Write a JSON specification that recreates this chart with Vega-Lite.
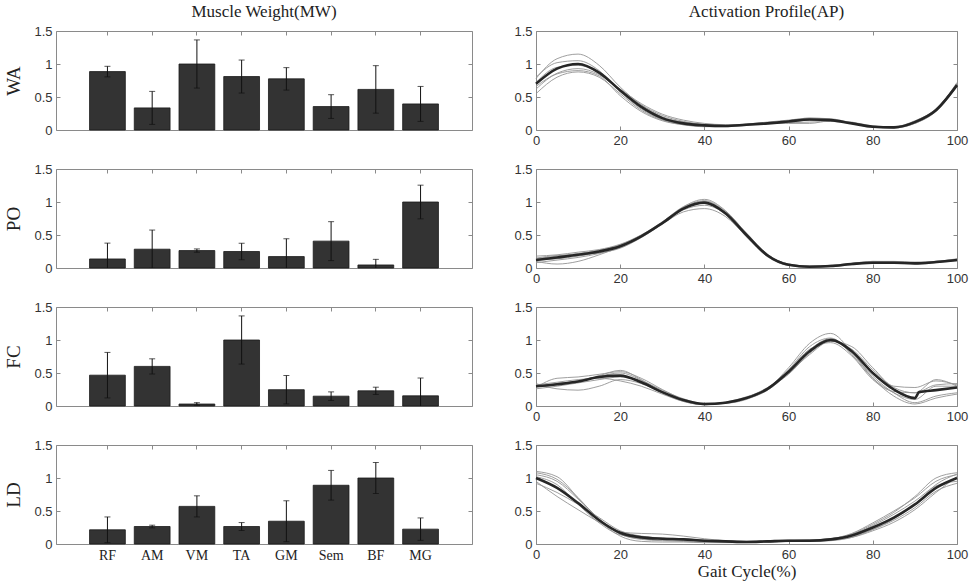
{
"$schema": "https://vega.github.io/schema/vega-lite/v6.json",
"background": "white",
"padding": {"left": 4, "top": 2, "right": 5, "bottom": 2},
"spacing": 14,
"config": {
  "view": {"stroke": "#8a8a8a", "strokeWidth": 1},
  "axis": {"labelFont": "Liberation Sans", "labelFontSize": 13, "labelColor": "#333333", "labelFlush": false, "domain": false, "ticks": true, "tickColor": "#8a8a8a", "tickSize": -4, "labelPadding": 8, "grid": false, "titleFont": "Liberation Serif", "titleFontSize": 19, "titleFontWeight": "normal", "titleColor": "#222222"},
  "title": {"font": "Liberation Serif", "fontSize": 17, "fontWeight": "normal", "color": "#222222"},
  "concat": {"spacing": 40}
},
"datasets": {
"bars": [
{"p":"WA","m":"RF","v":0.885,"lo":0.805,"hi":0.965},
{"p":"WA","m":"AM","v":0.335,"lo":0.085,"hi":0.585},
{"p":"WA","m":"VM","v":1.0,"lo":0.635,"hi":1.365},
{"p":"WA","m":"TA","v":0.81,"lo":0.56,"hi":1.06},
{"p":"WA","m":"GM","v":0.775,"lo":0.605,"hi":0.945},
{"p":"WA","m":"Sem","v":0.355,"lo":0.175,"hi":0.535},
{"p":"WA","m":"BF","v":0.615,"lo":0.255,"hi":0.975},
{"p":"WA","m":"MG","v":0.395,"lo":0.13,"hi":0.66},
{"p":"PO","m":"RF","v":0.137,"lo":-0.103,"hi":0.377},
{"p":"PO","m":"AM","v":0.285,"lo":-0.005,"hi":0.575},
{"p":"PO","m":"VM","v":0.264,"lo":0.239,"hi":0.289},
{"p":"PO","m":"TA","v":0.25,"lo":0.125,"hi":0.375},
{"p":"PO","m":"GM","v":0.173,"lo":-0.097,"hi":0.443},
{"p":"PO","m":"Sem","v":0.407,"lo":0.112,"hi":0.702},
{"p":"PO","m":"BF","v":0.046,"lo":-0.039,"hi":0.131},
{"p":"PO","m":"MG","v":1.0,"lo":0.745,"hi":1.255},
{"p":"FC","m":"RF","v":0.467,"lo":0.122,"hi":0.812},
{"p":"FC","m":"AM","v":0.6,"lo":0.485,"hi":0.715},
{"p":"FC","m":"VM","v":0.03,"lo":0.01,"hi":0.05},
{"p":"FC","m":"TA","v":1.0,"lo":0.635,"hi":1.365},
{"p":"FC","m":"GM","v":0.247,"lo":0.032,"hi":0.462},
{"p":"FC","m":"Sem","v":0.149,"lo":0.084,"hi":0.214},
{"p":"FC","m":"BF","v":0.23,"lo":0.175,"hi":0.285},
{"p":"FC","m":"MG","v":0.154,"lo":-0.116,"hi":0.424},
{"p":"LD","m":"RF","v":0.215,"lo":0.02,"hi":0.41},
{"p":"LD","m":"AM","v":0.265,"lo":0.245,"hi":0.285},
{"p":"LD","m":"VM","v":0.57,"lo":0.41,"hi":0.73},
{"p":"LD","m":"TA","v":0.265,"lo":0.205,"hi":0.325},
{"p":"LD","m":"GM","v":0.345,"lo":0.035,"hi":0.655},
{"p":"LD","m":"Sem","v":0.89,"lo":0.665,"hi":1.115},
{"p":"LD","m":"BF","v":1.0,"lo":0.765,"hi":1.235},
{"p":"LD","m":"MG","v":0.225,"lo":0.055,"hi":0.395}
],
"lines": [
{"p":"WA","s":"mean","x":0,"y":0.70},{"p":"WA","s":"mean","x":5,"y":0.93},{"p":"WA","s":"mean","x":10,"y":1.00},{"p":"WA","s":"mean","x":15,"y":0.87},{"p":"WA","s":"mean","x":20,"y":0.60},{"p":"WA","s":"mean","x":25,"y":0.35},{"p":"WA","s":"mean","x":30,"y":0.18},{"p":"WA","s":"mean","x":35,"y":0.10},{"p":"WA","s":"mean","x":40,"y":0.07},{"p":"WA","s":"mean","x":45,"y":0.06},{"p":"WA","s":"mean","x":50,"y":0.08},{"p":"WA","s":"mean","x":55,"y":0.10},{"p":"WA","s":"mean","x":60,"y":0.13},{"p":"WA","s":"mean","x":65,"y":0.16},{"p":"WA","s":"mean","x":70,"y":0.15},{"p":"WA","s":"mean","x":75,"y":0.10},{"p":"WA","s":"mean","x":80,"y":0.05},{"p":"WA","s":"mean","x":85,"y":0.04},{"p":"WA","s":"mean","x":90,"y":0.12},{"p":"WA","s":"mean","x":95,"y":0.30},{"p":"WA","s":"mean","x":100,"y":0.68},
{"p":"WA","s":"g1","x":0,"y":0.78},{"p":"WA","s":"g1","x":5,"y":1.08},{"p":"WA","s":"g1","x":10,"y":1.15},{"p":"WA","s":"g1","x":15,"y":0.98},{"p":"WA","s":"g1","x":20,"y":0.65},{"p":"WA","s":"g1","x":25,"y":0.38},{"p":"WA","s":"g1","x":30,"y":0.2},{"p":"WA","s":"g1","x":35,"y":0.12},{"p":"WA","s":"g1","x":40,"y":0.09},{"p":"WA","s":"g1","x":45,"y":0.07},{"p":"WA","s":"g1","x":50,"y":0.08},{"p":"WA","s":"g1","x":55,"y":0.1},{"p":"WA","s":"g1","x":60,"y":0.12},{"p":"WA","s":"g1","x":65,"y":0.15},{"p":"WA","s":"g1","x":70,"y":0.15},{"p":"WA","s":"g1","x":75,"y":0.11},{"p":"WA","s":"g1","x":80,"y":0.06},{"p":"WA","s":"g1","x":85,"y":0.04},{"p":"WA","s":"g1","x":90,"y":0.1},{"p":"WA","s":"g1","x":95,"y":0.3},{"p":"WA","s":"g1","x":100,"y":0.72},
{"p":"WA","s":"g2","x":0,"y":0.55},{"p":"WA","s":"g2","x":5,"y":0.8},{"p":"WA","s":"g2","x":10,"y":0.88},{"p":"WA","s":"g2","x":15,"y":0.8},{"p":"WA","s":"g2","x":20,"y":0.55},{"p":"WA","s":"g2","x":25,"y":0.3},{"p":"WA","s":"g2","x":30,"y":0.15},{"p":"WA","s":"g2","x":35,"y":0.08},{"p":"WA","s":"g2","x":40,"y":0.05},{"p":"WA","s":"g2","x":45,"y":0.05},{"p":"WA","s":"g2","x":50,"y":0.07},{"p":"WA","s":"g2","x":55,"y":0.1},{"p":"WA","s":"g2","x":60,"y":0.14},{"p":"WA","s":"g2","x":65,"y":0.18},{"p":"WA","s":"g2","x":70,"y":0.17},{"p":"WA","s":"g2","x":75,"y":0.11},{"p":"WA","s":"g2","x":80,"y":0.05},{"p":"WA","s":"g2","x":85,"y":0.03},{"p":"WA","s":"g2","x":90,"y":0.1},{"p":"WA","s":"g2","x":95,"y":0.28},{"p":"WA","s":"g2","x":100,"y":0.66},
{"p":"WA","s":"g3","x":0,"y":0.62},{"p":"WA","s":"g3","x":5,"y":0.86},{"p":"WA","s":"g3","x":10,"y":0.93},{"p":"WA","s":"g3","x":15,"y":0.84},{"p":"WA","s":"g3","x":20,"y":0.6},{"p":"WA","s":"g3","x":25,"y":0.38},{"p":"WA","s":"g3","x":30,"y":0.22},{"p":"WA","s":"g3","x":35,"y":0.13},{"p":"WA","s":"g3","x":40,"y":0.08},{"p":"WA","s":"g3","x":45,"y":0.06},{"p":"WA","s":"g3","x":50,"y":0.07},{"p":"WA","s":"g3","x":55,"y":0.09},{"p":"WA","s":"g3","x":60,"y":0.11},{"p":"WA","s":"g3","x":65,"y":0.12},{"p":"WA","s":"g3","x":70,"y":0.13},{"p":"WA","s":"g3","x":75,"y":0.1},{"p":"WA","s":"g3","x":80,"y":0.06},{"p":"WA","s":"g3","x":85,"y":0.05},{"p":"WA","s":"g3","x":90,"y":0.13},{"p":"WA","s":"g3","x":95,"y":0.32},{"p":"WA","s":"g3","x":100,"y":0.7},
{"p":"WA","s":"g4","x":0,"y":0.8},{"p":"WA","s":"g4","x":5,"y":1.02},{"p":"WA","s":"g4","x":10,"y":1.05},{"p":"WA","s":"g4","x":15,"y":0.9},{"p":"WA","s":"g4","x":20,"y":0.58},{"p":"WA","s":"g4","x":25,"y":0.32},{"p":"WA","s":"g4","x":30,"y":0.16},{"p":"WA","s":"g4","x":35,"y":0.09},{"p":"WA","s":"g4","x":40,"y":0.06},{"p":"WA","s":"g4","x":45,"y":0.06},{"p":"WA","s":"g4","x":50,"y":0.09},{"p":"WA","s":"g4","x":55,"y":0.12},{"p":"WA","s":"g4","x":60,"y":0.15},{"p":"WA","s":"g4","x":65,"y":0.18},{"p":"WA","s":"g4","x":70,"y":0.16},{"p":"WA","s":"g4","x":75,"y":0.1},{"p":"WA","s":"g4","x":80,"y":0.04},{"p":"WA","s":"g4","x":85,"y":0.03},{"p":"WA","s":"g4","x":90,"y":0.12},{"p":"WA","s":"g4","x":95,"y":0.3},{"p":"WA","s":"g4","x":100,"y":0.67},
{"p":"WA","s":"g5","x":0,"y":0.66},{"p":"WA","s":"g5","x":5,"y":0.85},{"p":"WA","s":"g5","x":10,"y":0.9},{"p":"WA","s":"g5","x":15,"y":0.82},{"p":"WA","s":"g5","x":20,"y":0.52},{"p":"WA","s":"g5","x":25,"y":0.28},{"p":"WA","s":"g5","x":30,"y":0.14},{"p":"WA","s":"g5","x":35,"y":0.08},{"p":"WA","s":"g5","x":40,"y":0.06},{"p":"WA","s":"g5","x":45,"y":0.07},{"p":"WA","s":"g5","x":50,"y":0.09},{"p":"WA","s":"g5","x":55,"y":0.1},{"p":"WA","s":"g5","x":60,"y":0.1},{"p":"WA","s":"g5","x":65,"y":0.1},{"p":"WA","s":"g5","x":70,"y":0.14},{"p":"WA","s":"g5","x":75,"y":0.12},{"p":"WA","s":"g5","x":80,"y":0.06},{"p":"WA","s":"g5","x":85,"y":0.04},{"p":"WA","s":"g5","x":90,"y":0.11},{"p":"WA","s":"g5","x":95,"y":0.31},{"p":"WA","s":"g5","x":100,"y":0.7},
{"p":"WA","s":"g6","x":0,"y":0.72},{"p":"WA","s":"g6","x":5,"y":0.95},{"p":"WA","s":"g6","x":10,"y":0.98},{"p":"WA","s":"g6","x":15,"y":0.86},{"p":"WA","s":"g6","x":20,"y":0.62},{"p":"WA","s":"g6","x":25,"y":0.4},{"p":"WA","s":"g6","x":30,"y":0.24},{"p":"WA","s":"g6","x":35,"y":0.15},{"p":"WA","s":"g6","x":40,"y":0.1},{"p":"WA","s":"g6","x":45,"y":0.08},{"p":"WA","s":"g6","x":50,"y":0.08},{"p":"WA","s":"g6","x":55,"y":0.1},{"p":"WA","s":"g6","x":60,"y":0.14},{"p":"WA","s":"g6","x":65,"y":0.17},{"p":"WA","s":"g6","x":70,"y":0.16},{"p":"WA","s":"g6","x":75,"y":0.1},{"p":"WA","s":"g6","x":80,"y":0.05},{"p":"WA","s":"g6","x":85,"y":0.05},{"p":"WA","s":"g6","x":90,"y":0.14},{"p":"WA","s":"g6","x":95,"y":0.32},{"p":"WA","s":"g6","x":100,"y":0.7},

{"p":"PO","s":"mean","x":0,"y":0.12},{"p":"PO","s":"mean","x":5,"y":0.16},{"p":"PO","s":"mean","x":10,"y":0.2},{"p":"PO","s":"mean","x":15,"y":0.25},{"p":"PO","s":"mean","x":20,"y":0.33},{"p":"PO","s":"mean","x":25,"y":0.48},{"p":"PO","s":"mean","x":30,"y":0.68},{"p":"PO","s":"mean","x":35,"y":0.9},{"p":"PO","s":"mean","x":40,"y":0.99},{"p":"PO","s":"mean","x":45,"y":0.83},{"p":"PO","s":"mean","x":50,"y":0.5},{"p":"PO","s":"mean","x":55,"y":0.19},{"p":"PO","s":"mean","x":60,"y":0.05},{"p":"PO","s":"mean","x":65,"y":0.02},{"p":"PO","s":"mean","x":70,"y":0.03},{"p":"PO","s":"mean","x":75,"y":0.06},{"p":"PO","s":"mean","x":80,"y":0.08},{"p":"PO","s":"mean","x":85,"y":0.08},{"p":"PO","s":"mean","x":90,"y":0.07},{"p":"PO","s":"mean","x":95,"y":0.09},{"p":"PO","s":"mean","x":100,"y":0.12},
{"p":"PO","s":"g1","x":0,"y":0.18},{"p":"PO","s":"g1","x":5,"y":0.2},{"p":"PO","s":"g1","x":10,"y":0.24},{"p":"PO","s":"g1","x":15,"y":0.28},{"p":"PO","s":"g1","x":20,"y":0.36},{"p":"PO","s":"g1","x":25,"y":0.5},{"p":"PO","s":"g1","x":30,"y":0.7},{"p":"PO","s":"g1","x":35,"y":0.93},{"p":"PO","s":"g1","x":40,"y":1.04},{"p":"PO","s":"g1","x":45,"y":0.87},{"p":"PO","s":"g1","x":50,"y":0.52},{"p":"PO","s":"g1","x":55,"y":0.2},{"p":"PO","s":"g1","x":60,"y":0.05},{"p":"PO","s":"g1","x":65,"y":0.02},{"p":"PO","s":"g1","x":70,"y":0.04},{"p":"PO","s":"g1","x":75,"y":0.07},{"p":"PO","s":"g1","x":80,"y":0.1},{"p":"PO","s":"g1","x":85,"y":0.1},{"p":"PO","s":"g1","x":90,"y":0.09},{"p":"PO","s":"g1","x":95,"y":0.1},{"p":"PO","s":"g1","x":100,"y":0.14},
{"p":"PO","s":"g2","x":0,"y":0.1},{"p":"PO","s":"g2","x":5,"y":0.06},{"p":"PO","s":"g2","x":10,"y":0.1},{"p":"PO","s":"g2","x":15,"y":0.2},{"p":"PO","s":"g2","x":20,"y":0.32},{"p":"PO","s":"g2","x":25,"y":0.48},{"p":"PO","s":"g2","x":30,"y":0.68},{"p":"PO","s":"g2","x":35,"y":0.88},{"p":"PO","s":"g2","x":40,"y":0.95},{"p":"PO","s":"g2","x":45,"y":0.82},{"p":"PO","s":"g2","x":50,"y":0.5},{"p":"PO","s":"g2","x":55,"y":0.2},{"p":"PO","s":"g2","x":60,"y":0.06},{"p":"PO","s":"g2","x":65,"y":0.03},{"p":"PO","s":"g2","x":70,"y":0.04},{"p":"PO","s":"g2","x":75,"y":0.06},{"p":"PO","s":"g2","x":80,"y":0.08},{"p":"PO","s":"g2","x":85,"y":0.09},{"p":"PO","s":"g2","x":90,"y":0.08},{"p":"PO","s":"g2","x":95,"y":0.1},{"p":"PO","s":"g2","x":100,"y":0.13},
{"p":"PO","s":"g3","x":0,"y":0.14},{"p":"PO","s":"g3","x":5,"y":0.18},{"p":"PO","s":"g3","x":10,"y":0.22},{"p":"PO","s":"g3","x":15,"y":0.27},{"p":"PO","s":"g3","x":20,"y":0.35},{"p":"PO","s":"g3","x":25,"y":0.5},{"p":"PO","s":"g3","x":30,"y":0.67},{"p":"PO","s":"g3","x":35,"y":0.85},{"p":"PO","s":"g3","x":40,"y":0.9},{"p":"PO","s":"g3","x":45,"y":0.78},{"p":"PO","s":"g3","x":50,"y":0.48},{"p":"PO","s":"g3","x":55,"y":0.18},{"p":"PO","s":"g3","x":60,"y":0.04},{"p":"PO","s":"g3","x":65,"y":0.02},{"p":"PO","s":"g3","x":70,"y":0.03},{"p":"PO","s":"g3","x":75,"y":0.05},{"p":"PO","s":"g3","x":80,"y":0.07},{"p":"PO","s":"g3","x":85,"y":0.07},{"p":"PO","s":"g3","x":90,"y":0.06},{"p":"PO","s":"g3","x":95,"y":0.08},{"p":"PO","s":"g3","x":100,"y":0.11},
{"p":"PO","s":"g4","x":0,"y":0.08},{"p":"PO","s":"g4","x":5,"y":0.12},{"p":"PO","s":"g4","x":10,"y":0.16},{"p":"PO","s":"g4","x":15,"y":0.22},{"p":"PO","s":"g4","x":20,"y":0.31},{"p":"PO","s":"g4","x":25,"y":0.47},{"p":"PO","s":"g4","x":30,"y":0.69},{"p":"PO","s":"g4","x":35,"y":0.92},{"p":"PO","s":"g4","x":40,"y":1.02},{"p":"PO","s":"g4","x":45,"y":0.86},{"p":"PO","s":"g4","x":50,"y":0.53},{"p":"PO","s":"g4","x":55,"y":0.21},{"p":"PO","s":"g4","x":60,"y":0.05},{"p":"PO","s":"g4","x":65,"y":0.01},{"p":"PO","s":"g4","x":70,"y":0.02},{"p":"PO","s":"g4","x":75,"y":0.05},{"p":"PO","s":"g4","x":80,"y":0.09},{"p":"PO","s":"g4","x":85,"y":0.09},{"p":"PO","s":"g4","x":90,"y":0.07},{"p":"PO","s":"g4","x":95,"y":0.09},{"p":"PO","s":"g4","x":100,"y":0.12},
{"p":"PO","s":"g5","x":0,"y":0.12},{"p":"PO","s":"g5","x":5,"y":0.14},{"p":"PO","s":"g5","x":10,"y":0.18},{"p":"PO","s":"g5","x":15,"y":0.24},{"p":"PO","s":"g5","x":20,"y":0.34},{"p":"PO","s":"g5","x":25,"y":0.49},{"p":"PO","s":"g5","x":30,"y":0.69},{"p":"PO","s":"g5","x":35,"y":0.9},{"p":"PO","s":"g5","x":40,"y":0.98},{"p":"PO","s":"g5","x":45,"y":0.81},{"p":"PO","s":"g5","x":50,"y":0.47},{"p":"PO","s":"g5","x":55,"y":0.17},{"p":"PO","s":"g5","x":60,"y":0.04},{"p":"PO","s":"g5","x":65,"y":0.02},{"p":"PO","s":"g5","x":70,"y":0.03},{"p":"PO","s":"g5","x":75,"y":0.06},{"p":"PO","s":"g5","x":80,"y":0.08},{"p":"PO","s":"g5","x":85,"y":0.08},{"p":"PO","s":"g5","x":90,"y":0.07},{"p":"PO","s":"g5","x":95,"y":0.09},{"p":"PO","s":"g5","x":100,"y":0.12},
{"p":"PO","s":"g6","x":0,"y":0.15},{"p":"PO","s":"g6","x":5,"y":0.19},{"p":"PO","s":"g6","x":10,"y":0.2},{"p":"PO","s":"g6","x":15,"y":0.23},{"p":"PO","s":"g6","x":20,"y":0.3},{"p":"PO","s":"g6","x":25,"y":0.46},{"p":"PO","s":"g6","x":30,"y":0.67},{"p":"PO","s":"g6","x":35,"y":0.91},{"p":"PO","s":"g6","x":40,"y":1.01},{"p":"PO","s":"g6","x":45,"y":0.84},{"p":"PO","s":"g6","x":50,"y":0.51},{"p":"PO","s":"g6","x":55,"y":0.2},{"p":"PO","s":"g6","x":60,"y":0.06},{"p":"PO","s":"g6","x":65,"y":0.03},{"p":"PO","s":"g6","x":70,"y":0.04},{"p":"PO","s":"g6","x":75,"y":0.07},{"p":"PO","s":"g6","x":80,"y":0.1},{"p":"PO","s":"g6","x":85,"y":0.09},{"p":"PO","s":"g6","x":90,"y":0.08},{"p":"PO","s":"g6","x":95,"y":0.1},{"p":"PO","s":"g6","x":100,"y":0.13},

{"p":"FC","s":"mean","x":0,"y":0.3},{"p":"FC","s":"mean","x":5,"y":0.33},{"p":"FC","s":"mean","x":10,"y":0.37},{"p":"FC","s":"mean","x":15,"y":0.44},{"p":"FC","s":"mean","x":20,"y":0.46},{"p":"FC","s":"mean","x":25,"y":0.36},{"p":"FC","s":"mean","x":30,"y":0.21},{"p":"FC","s":"mean","x":35,"y":0.09},{"p":"FC","s":"mean","x":40,"y":0.03},{"p":"FC","s":"mean","x":45,"y":0.05},{"p":"FC","s":"mean","x":50,"y":0.12},{"p":"FC","s":"mean","x":55,"y":0.26},{"p":"FC","s":"mean","x":60,"y":0.52},{"p":"FC","s":"mean","x":65,"y":0.83},{"p":"FC","s":"mean","x":70,"y":1.0},{"p":"FC","s":"mean","x":75,"y":0.83},{"p":"FC","s":"mean","x":80,"y":0.5},{"p":"FC","s":"mean","x":85,"y":0.25},{"p":"FC","s":"mean","x":90,"y":0.12},{"p":"FC","s":"mean","x":91,"y":0.21},{"p":"FC","s":"mean","x":95,"y":0.24},{"p":"FC","s":"mean","x":100,"y":0.28},
{"p":"FC","s":"g1","x":0,"y":0.28},{"p":"FC","s":"g1","x":5,"y":0.42},{"p":"FC","s":"g1","x":10,"y":0.44},{"p":"FC","s":"g1","x":15,"y":0.48},{"p":"FC","s":"g1","x":20,"y":0.52},{"p":"FC","s":"g1","x":25,"y":0.42},{"p":"FC","s":"g1","x":30,"y":0.25},{"p":"FC","s":"g1","x":35,"y":0.1},{"p":"FC","s":"g1","x":40,"y":0.03},{"p":"FC","s":"g1","x":45,"y":0.04},{"p":"FC","s":"g1","x":50,"y":0.1},{"p":"FC","s":"g1","x":55,"y":0.26},{"p":"FC","s":"g1","x":60,"y":0.58},{"p":"FC","s":"g1","x":65,"y":0.95},{"p":"FC","s":"g1","x":70,"y":1.1},{"p":"FC","s":"g1","x":75,"y":0.82},{"p":"FC","s":"g1","x":80,"y":0.42},{"p":"FC","s":"g1","x":85,"y":0.15},{"p":"FC","s":"g1","x":90,"y":0.03},{"p":"FC","s":"g1","x":95,"y":0.12},{"p":"FC","s":"g1","x":100,"y":0.18},
{"p":"FC","s":"g2","x":0,"y":0.34},{"p":"FC","s":"g2","x":5,"y":0.26},{"p":"FC","s":"g2","x":10,"y":0.24},{"p":"FC","s":"g2","x":15,"y":0.3},{"p":"FC","s":"g2","x":20,"y":0.4},{"p":"FC","s":"g2","x":25,"y":0.34},{"p":"FC","s":"g2","x":30,"y":0.2},{"p":"FC","s":"g2","x":35,"y":0.08},{"p":"FC","s":"g2","x":40,"y":0.02},{"p":"FC","s":"g2","x":45,"y":0.05},{"p":"FC","s":"g2","x":50,"y":0.13},{"p":"FC","s":"g2","x":55,"y":0.28},{"p":"FC","s":"g2","x":60,"y":0.5},{"p":"FC","s":"g2","x":65,"y":0.78},{"p":"FC","s":"g2","x":70,"y":0.98},{"p":"FC","s":"g2","x":75,"y":0.9},{"p":"FC","s":"g2","x":80,"y":0.58},{"p":"FC","s":"g2","x":85,"y":0.3},{"p":"FC","s":"g2","x":90,"y":0.28},{"p":"FC","s":"g2","x":95,"y":0.38},{"p":"FC","s":"g2","x":100,"y":0.32},
{"p":"FC","s":"g3","x":0,"y":0.3},{"p":"FC","s":"g3","x":5,"y":0.34},{"p":"FC","s":"g3","x":10,"y":0.38},{"p":"FC","s":"g3","x":15,"y":0.46},{"p":"FC","s":"g3","x":20,"y":0.54},{"p":"FC","s":"g3","x":25,"y":0.4},{"p":"FC","s":"g3","x":30,"y":0.22},{"p":"FC","s":"g3","x":35,"y":0.08},{"p":"FC","s":"g3","x":40,"y":0.02},{"p":"FC","s":"g3","x":45,"y":0.04},{"p":"FC","s":"g3","x":50,"y":0.11},{"p":"FC","s":"g3","x":55,"y":0.24},{"p":"FC","s":"g3","x":60,"y":0.55},{"p":"FC","s":"g3","x":65,"y":0.9},{"p":"FC","s":"g3","x":70,"y":1.03},{"p":"FC","s":"g3","x":75,"y":0.78},{"p":"FC","s":"g3","x":80,"y":0.42},{"p":"FC","s":"g3","x":85,"y":0.2},{"p":"FC","s":"g3","x":90,"y":0.1},{"p":"FC","s":"g3","x":95,"y":0.3},{"p":"FC","s":"g3","x":100,"y":0.3},
{"p":"FC","s":"g4","x":0,"y":0.26},{"p":"FC","s":"g4","x":5,"y":0.3},{"p":"FC","s":"g4","x":10,"y":0.35},{"p":"FC","s":"g4","x":15,"y":0.4},{"p":"FC","s":"g4","x":20,"y":0.44},{"p":"FC","s":"g4","x":25,"y":0.38},{"p":"FC","s":"g4","x":30,"y":0.24},{"p":"FC","s":"g4","x":35,"y":0.11},{"p":"FC","s":"g4","x":40,"y":0.04},{"p":"FC","s":"g4","x":45,"y":0.05},{"p":"FC","s":"g4","x":50,"y":0.12},{"p":"FC","s":"g4","x":55,"y":0.27},{"p":"FC","s":"g4","x":60,"y":0.48},{"p":"FC","s":"g4","x":65,"y":0.8},{"p":"FC","s":"g4","x":70,"y":0.98},{"p":"FC","s":"g4","x":75,"y":0.86},{"p":"FC","s":"g4","x":80,"y":0.55},{"p":"FC","s":"g4","x":85,"y":0.28},{"p":"FC","s":"g4","x":90,"y":0.2},{"p":"FC","s":"g4","x":95,"y":0.4},{"p":"FC","s":"g4","x":100,"y":0.3},
{"p":"FC","s":"g5","x":0,"y":0.32},{"p":"FC","s":"g5","x":5,"y":0.36},{"p":"FC","s":"g5","x":10,"y":0.4},{"p":"FC","s":"g5","x":15,"y":0.42},{"p":"FC","s":"g5","x":20,"y":0.38},{"p":"FC","s":"g5","x":25,"y":0.3},{"p":"FC","s":"g5","x":30,"y":0.18},{"p":"FC","s":"g5","x":35,"y":0.07},{"p":"FC","s":"g5","x":40,"y":0.02},{"p":"FC","s":"g5","x":45,"y":0.05},{"p":"FC","s":"g5","x":50,"y":0.12},{"p":"FC","s":"g5","x":55,"y":0.24},{"p":"FC","s":"g5","x":60,"y":0.5},{"p":"FC","s":"g5","x":65,"y":0.85},{"p":"FC","s":"g5","x":70,"y":1.02},{"p":"FC","s":"g5","x":75,"y":0.8},{"p":"FC","s":"g5","x":80,"y":0.45},{"p":"FC","s":"g5","x":85,"y":0.2},{"p":"FC","s":"g5","x":90,"y":0.05},{"p":"FC","s":"g5","x":95,"y":0.15},{"p":"FC","s":"g5","x":100,"y":0.2},
{"p":"FC","s":"g6","x":0,"y":0.29},{"p":"FC","s":"g6","x":5,"y":0.32},{"p":"FC","s":"g6","x":10,"y":0.36},{"p":"FC","s":"g6","x":15,"y":0.45},{"p":"FC","s":"g6","x":20,"y":0.5},{"p":"FC","s":"g6","x":25,"y":0.39},{"p":"FC","s":"g6","x":30,"y":0.2},{"p":"FC","s":"g6","x":35,"y":0.07},{"p":"FC","s":"g6","x":40,"y":0.02},{"p":"FC","s":"g6","x":45,"y":0.06},{"p":"FC","s":"g6","x":50,"y":0.14},{"p":"FC","s":"g6","x":55,"y":0.27},{"p":"FC","s":"g6","x":60,"y":0.54},{"p":"FC","s":"g6","x":65,"y":0.86},{"p":"FC","s":"g6","x":70,"y":0.96},{"p":"FC","s":"g6","x":75,"y":0.76},{"p":"FC","s":"g6","x":80,"y":0.4},{"p":"FC","s":"g6","x":85,"y":0.22},{"p":"FC","s":"g6","x":90,"y":0.2},{"p":"FC","s":"g6","x":95,"y":0.32},{"p":"FC","s":"g6","x":100,"y":0.34},

{"p":"LD","s":"mean","x":0,"y":1.0},{"p":"LD","s":"mean","x":5,"y":0.85},{"p":"LD","s":"mean","x":10,"y":0.62},{"p":"LD","s":"mean","x":15,"y":0.36},{"p":"LD","s":"mean","x":20,"y":0.17},{"p":"LD","s":"mean","x":25,"y":0.1},{"p":"LD","s":"mean","x":30,"y":0.08},{"p":"LD","s":"mean","x":35,"y":0.07},{"p":"LD","s":"mean","x":40,"y":0.05},{"p":"LD","s":"mean","x":45,"y":0.04},{"p":"LD","s":"mean","x":50,"y":0.03},{"p":"LD","s":"mean","x":55,"y":0.04},{"p":"LD","s":"mean","x":60,"y":0.05},{"p":"LD","s":"mean","x":65,"y":0.05},{"p":"LD","s":"mean","x":70,"y":0.07},{"p":"LD","s":"mean","x":75,"y":0.13},{"p":"LD","s":"mean","x":80,"y":0.25},{"p":"LD","s":"mean","x":85,"y":0.4},{"p":"LD","s":"mean","x":90,"y":0.6},{"p":"LD","s":"mean","x":95,"y":0.85},{"p":"LD","s":"mean","x":100,"y":1.0},
{"p":"LD","s":"g1","x":0,"y":1.1},{"p":"LD","s":"g1","x":5,"y":1.02},{"p":"LD","s":"g1","x":10,"y":0.7},{"p":"LD","s":"g1","x":15,"y":0.38},{"p":"LD","s":"g1","x":20,"y":0.15},{"p":"LD","s":"g1","x":25,"y":0.08},{"p":"LD","s":"g1","x":30,"y":0.06},{"p":"LD","s":"g1","x":35,"y":0.05},{"p":"LD","s":"g1","x":40,"y":0.04},{"p":"LD","s":"g1","x":45,"y":0.03},{"p":"LD","s":"g1","x":50,"y":0.03},{"p":"LD","s":"g1","x":55,"y":0.04},{"p":"LD","s":"g1","x":60,"y":0.05},{"p":"LD","s":"g1","x":65,"y":0.06},{"p":"LD","s":"g1","x":70,"y":0.08},{"p":"LD","s":"g1","x":75,"y":0.15},{"p":"LD","s":"g1","x":80,"y":0.3},{"p":"LD","s":"g1","x":85,"y":0.48},{"p":"LD","s":"g1","x":90,"y":0.72},{"p":"LD","s":"g1","x":95,"y":1.0},{"p":"LD","s":"g1","x":100,"y":1.08},
{"p":"LD","s":"g2","x":0,"y":0.95},{"p":"LD","s":"g2","x":5,"y":0.72},{"p":"LD","s":"g2","x":10,"y":0.52},{"p":"LD","s":"g2","x":15,"y":0.33},{"p":"LD","s":"g2","x":20,"y":0.18},{"p":"LD","s":"g2","x":25,"y":0.16},{"p":"LD","s":"g2","x":30,"y":0.15},{"p":"LD","s":"g2","x":35,"y":0.12},{"p":"LD","s":"g2","x":40,"y":0.08},{"p":"LD","s":"g2","x":45,"y":0.05},{"p":"LD","s":"g2","x":50,"y":0.04},{"p":"LD","s":"g2","x":55,"y":0.04},{"p":"LD","s":"g2","x":60,"y":0.05},{"p":"LD","s":"g2","x":65,"y":0.06},{"p":"LD","s":"g2","x":70,"y":0.08},{"p":"LD","s":"g2","x":75,"y":0.14},{"p":"LD","s":"g2","x":80,"y":0.28},{"p":"LD","s":"g2","x":85,"y":0.45},{"p":"LD","s":"g2","x":90,"y":0.65},{"p":"LD","s":"g2","x":95,"y":0.88},{"p":"LD","s":"g2","x":100,"y":0.95},
{"p":"LD","s":"g3","x":0,"y":1.05},{"p":"LD","s":"g3","x":5,"y":0.95},{"p":"LD","s":"g3","x":10,"y":0.68},{"p":"LD","s":"g3","x":15,"y":0.38},{"p":"LD","s":"g3","x":20,"y":0.15},{"p":"LD","s":"g3","x":25,"y":0.07},{"p":"LD","s":"g3","x":30,"y":0.05},{"p":"LD","s":"g3","x":35,"y":0.04},{"p":"LD","s":"g3","x":40,"y":0.03},{"p":"LD","s":"g3","x":45,"y":0.03},{"p":"LD","s":"g3","x":50,"y":0.03},{"p":"LD","s":"g3","x":55,"y":0.03},{"p":"LD","s":"g3","x":60,"y":0.04},{"p":"LD","s":"g3","x":65,"y":0.05},{"p":"LD","s":"g3","x":70,"y":0.06},{"p":"LD","s":"g3","x":75,"y":0.1},{"p":"LD","s":"g3","x":80,"y":0.2},{"p":"LD","s":"g3","x":85,"y":0.33},{"p":"LD","s":"g3","x":90,"y":0.52},{"p":"LD","s":"g3","x":95,"y":0.78},{"p":"LD","s":"g3","x":100,"y":1.02},
{"p":"LD","s":"g4","x":0,"y":1.02},{"p":"LD","s":"g4","x":5,"y":0.9},{"p":"LD","s":"g4","x":10,"y":0.6},{"p":"LD","s":"g4","x":15,"y":0.32},{"p":"LD","s":"g4","x":20,"y":0.14},{"p":"LD","s":"g4","x":25,"y":0.1},{"p":"LD","s":"g4","x":30,"y":0.09},{"p":"LD","s":"g4","x":35,"y":0.08},{"p":"LD","s":"g4","x":40,"y":0.06},{"p":"LD","s":"g4","x":45,"y":0.05},{"p":"LD","s":"g4","x":50,"y":0.04},{"p":"LD","s":"g4","x":55,"y":0.05},{"p":"LD","s":"g4","x":60,"y":0.06},{"p":"LD","s":"g4","x":65,"y":0.06},{"p":"LD","s":"g4","x":70,"y":0.08},{"p":"LD","s":"g4","x":75,"y":0.16},{"p":"LD","s":"g4","x":80,"y":0.32},{"p":"LD","s":"g4","x":85,"y":0.5},{"p":"LD","s":"g4","x":90,"y":0.7},{"p":"LD","s":"g4","x":95,"y":0.95},{"p":"LD","s":"g4","x":100,"y":1.05},
{"p":"LD","s":"g5","x":0,"y":0.92},{"p":"LD","s":"g5","x":5,"y":0.78},{"p":"LD","s":"g5","x":10,"y":0.6},{"p":"LD","s":"g5","x":15,"y":0.4},{"p":"LD","s":"g5","x":20,"y":0.2},{"p":"LD","s":"g5","x":25,"y":0.12},{"p":"LD","s":"g5","x":30,"y":0.09},{"p":"LD","s":"g5","x":35,"y":0.07},{"p":"LD","s":"g5","x":40,"y":0.05},{"p":"LD","s":"g5","x":45,"y":0.04},{"p":"LD","s":"g5","x":50,"y":0.03},{"p":"LD","s":"g5","x":55,"y":0.03},{"p":"LD","s":"g5","x":60,"y":0.04},{"p":"LD","s":"g5","x":65,"y":0.05},{"p":"LD","s":"g5","x":70,"y":0.07},{"p":"LD","s":"g5","x":75,"y":0.12},{"p":"LD","s":"g5","x":80,"y":0.22},{"p":"LD","s":"g5","x":85,"y":0.36},{"p":"LD","s":"g5","x":90,"y":0.55},{"p":"LD","s":"g5","x":95,"y":0.8},{"p":"LD","s":"g5","x":100,"y":0.92},
{"p":"LD","s":"g6","x":0,"y":1.08},{"p":"LD","s":"g6","x":5,"y":0.98},{"p":"LD","s":"g6","x":10,"y":0.7},{"p":"LD","s":"g6","x":15,"y":0.36},{"p":"LD","s":"g6","x":20,"y":0.12},{"p":"LD","s":"g6","x":25,"y":0.04},{"p":"LD","s":"g6","x":30,"y":0.03},{"p":"LD","s":"g6","x":35,"y":0.03},{"p":"LD","s":"g6","x":40,"y":0.02},{"p":"LD","s":"g6","x":45,"y":0.02},{"p":"LD","s":"g6","x":50,"y":0.02},{"p":"LD","s":"g6","x":55,"y":0.03},{"p":"LD","s":"g6","x":60,"y":0.04},{"p":"LD","s":"g6","x":65,"y":0.04},{"p":"LD","s":"g6","x":70,"y":0.05},{"p":"LD","s":"g6","x":75,"y":0.1},{"p":"LD","s":"g6","x":80,"y":0.22},{"p":"LD","s":"g6","x":85,"y":0.38},{"p":"LD","s":"g6","x":90,"y":0.6},{"p":"LD","s":"g6","x":95,"y":0.9},{"p":"LD","s":"g6","x":100,"y":1.06}
]
},
"vconcat": [
{"hconcat": [
 {"width": 416, "height": 99, "data": {"name": "bars"}, "transform": [{"filter": "datum.p === 'WA'"}],
  "title": {"text": "Muscle Weight(MW)", "frame": "group", "anchor": "middle", "offset": 4},
  "layer": [
   {"mark": {"type": "bar", "color": "#333333", "stroke": "#1a1a1a", "strokeWidth": 0.8},
    "encoding": {"x": {"field": "m", "type": "nominal", "sort": null, "scale": {"paddingInner": 0.2, "paddingOuter": 0.75}, "axis": {"title": null, "labels": false, "orient": "bottom"}},
                 "y": {"field": "v", "type": "quantitative", "scale": {"domain": [0, 1.5], "nice": false}, "axis": {"title": "WA", "values": [0, 0.5, 1, 1.5], "labelExpr": "datum.value + ''", "titlePadding": 10}}}},
   {"mark": {"type": "rule", "color": "#111111", "strokeWidth": 1, "clip": true},
    "encoding": {"x": {"field": "m", "type": "nominal", "sort": null, "axis": {"title": null, "labels": false, "orient": "top"}},
                 "y": {"field": "lo", "type": "quantitative", "axis": {"title": null, "labels": false, "orient": "right", "values": [0, 0.5, 1, 1.5]}}, "y2": {"field": "hi"}}},
   {"mark": {"type": "tick", "color": "#111111", "thickness": 1, "size": 6, "clip": true},
    "encoding": {"x": {"field": "m", "type": "nominal", "sort": null, "axis": null}, "y": {"field": "hi", "type": "quantitative", "axis": null}}},
   {"mark": {"type": "tick", "color": "#111111", "thickness": 1, "size": 6, "clip": true},
    "encoding": {"x": {"field": "m", "type": "nominal", "sort": null, "axis": null}, "y": {"field": "lo", "type": "quantitative", "axis": null}}}
  ],
  "resolve": {"axis": {"x": "independent", "y": "independent"}}},
 {"width": 421, "height": 99, "data": {"name": "lines"}, "transform": [{"filter": "datum.p === 'WA'"}],
  "title": {"text": "Activation Profile(AP)", "frame": "group", "anchor": "middle", "offset": 4, "dx": 20},
  "layer": [
   {"transform": [{"filter": "datum.s !== 'mean'"}], "mark": {"type": "line", "color": "#949494", "strokeWidth": 0.9, "interpolate": "monotone"},
    "encoding": {"detail": {"field": "s"}, "x": {"field": "x", "type": "quantitative", "scale": {"domain": [0, 100], "nice": false}, "axis": {"title": null, "values": [0, 20, 40, 60, 80, 100]}},
                 "y": {"field": "y", "type": "quantitative", "scale": {"domain": [0, 1.5], "nice": false}, "axis": {"title": null, "values": [0, 0.5, 1, 1.5], "labelExpr": "datum.value + ''"}}}},
   {"transform": [{"filter": "datum.s === 'mean'"}], "mark": {"type": "line", "color": "#262626", "strokeWidth": 2.6, "interpolate": "monotone"},
    "encoding": {"x": {"field": "x", "type": "quantitative", "axis": {"title": null, "labels": false, "orient": "top", "values": [0, 20, 40, 60, 80, 100]}},
                 "y": {"field": "y", "type": "quantitative", "axis": {"title": null, "labels": false, "orient": "right", "values": [0, 0.5, 1, 1.5]}}}}
  ],
  "resolve": {"axis": {"x": "independent", "y": "independent"}}}
]},
{"hconcat": [
 {"width": 416, "height": 99, "data": {"name": "bars"}, "transform": [{"filter": "datum.p === 'PO'"}],
  "layer": [
   {"mark": {"type": "bar", "color": "#333333", "stroke": "#1a1a1a", "strokeWidth": 0.8},
    "encoding": {"x": {"field": "m", "type": "nominal", "sort": null, "scale": {"paddingInner": 0.2, "paddingOuter": 0.75}, "axis": {"title": null, "labels": false, "orient": "bottom"}},
                 "y": {"field": "v", "type": "quantitative", "scale": {"domain": [0, 1.5], "nice": false}, "axis": {"title": "PO", "values": [0, 0.5, 1, 1.5], "labelExpr": "datum.value + ''", "titlePadding": 10}}}},
   {"mark": {"type": "rule", "color": "#111111", "strokeWidth": 1, "clip": true},
    "encoding": {"x": {"field": "m", "type": "nominal", "sort": null, "axis": {"title": null, "labels": false, "orient": "top"}},
                 "y": {"field": "lo", "type": "quantitative", "axis": {"title": null, "labels": false, "orient": "right", "values": [0, 0.5, 1, 1.5]}}, "y2": {"field": "hi"}}},
   {"mark": {"type": "tick", "color": "#111111", "thickness": 1, "size": 6, "clip": true},
    "encoding": {"x": {"field": "m", "type": "nominal", "sort": null, "axis": null}, "y": {"field": "hi", "type": "quantitative", "axis": null}}},
   {"mark": {"type": "tick", "color": "#111111", "thickness": 1, "size": 6, "clip": true},
    "encoding": {"x": {"field": "m", "type": "nominal", "sort": null, "axis": null}, "y": {"field": "lo", "type": "quantitative", "axis": null}}}
  ],
  "resolve": {"axis": {"x": "independent", "y": "independent"}}},
 {"width": 421, "height": 99, "data": {"name": "lines"}, "transform": [{"filter": "datum.p === 'PO'"}],
  "layer": [
   {"transform": [{"filter": "datum.s !== 'mean'"}], "mark": {"type": "line", "color": "#949494", "strokeWidth": 0.9, "interpolate": "monotone"},
    "encoding": {"detail": {"field": "s"}, "x": {"field": "x", "type": "quantitative", "scale": {"domain": [0, 100], "nice": false}, "axis": {"title": null, "values": [0, 20, 40, 60, 80, 100]}},
                 "y": {"field": "y", "type": "quantitative", "scale": {"domain": [0, 1.5], "nice": false}, "axis": {"title": null, "values": [0, 0.5, 1, 1.5], "labelExpr": "datum.value + ''"}}}},
   {"transform": [{"filter": "datum.s === 'mean'"}], "mark": {"type": "line", "color": "#262626", "strokeWidth": 2.6, "interpolate": "monotone"},
    "encoding": {"x": {"field": "x", "type": "quantitative", "axis": {"title": null, "labels": false, "orient": "top", "values": [0, 20, 40, 60, 80, 100]}},
                 "y": {"field": "y", "type": "quantitative", "axis": {"title": null, "labels": false, "orient": "right", "values": [0, 0.5, 1, 1.5]}}}}
  ],
  "resolve": {"axis": {"x": "independent", "y": "independent"}}}
]},
{"hconcat": [
 {"width": 416, "height": 99, "data": {"name": "bars"}, "transform": [{"filter": "datum.p === 'FC'"}],
  "layer": [
   {"mark": {"type": "bar", "color": "#333333", "stroke": "#1a1a1a", "strokeWidth": 0.8},
    "encoding": {"x": {"field": "m", "type": "nominal", "sort": null, "scale": {"paddingInner": 0.2, "paddingOuter": 0.75}, "axis": {"title": null, "labels": false, "orient": "bottom"}},
                 "y": {"field": "v", "type": "quantitative", "scale": {"domain": [0, 1.5], "nice": false}, "axis": {"title": "FC", "values": [0, 0.5, 1, 1.5], "labelExpr": "datum.value + ''", "titlePadding": 10}}}},
   {"mark": {"type": "rule", "color": "#111111", "strokeWidth": 1, "clip": true},
    "encoding": {"x": {"field": "m", "type": "nominal", "sort": null, "axis": {"title": null, "labels": false, "orient": "top"}},
                 "y": {"field": "lo", "type": "quantitative", "axis": {"title": null, "labels": false, "orient": "right", "values": [0, 0.5, 1, 1.5]}}, "y2": {"field": "hi"}}},
   {"mark": {"type": "tick", "color": "#111111", "thickness": 1, "size": 6, "clip": true},
    "encoding": {"x": {"field": "m", "type": "nominal", "sort": null, "axis": null}, "y": {"field": "hi", "type": "quantitative", "axis": null}}},
   {"mark": {"type": "tick", "color": "#111111", "thickness": 1, "size": 6, "clip": true},
    "encoding": {"x": {"field": "m", "type": "nominal", "sort": null, "axis": null}, "y": {"field": "lo", "type": "quantitative", "axis": null}}}
  ],
  "resolve": {"axis": {"x": "independent", "y": "independent"}}},
 {"width": 421, "height": 99, "data": {"name": "lines"}, "transform": [{"filter": "datum.p === 'FC'"}],
  "layer": [
   {"transform": [{"filter": "datum.s !== 'mean'"}], "mark": {"type": "line", "color": "#949494", "strokeWidth": 0.9, "interpolate": "monotone"},
    "encoding": {"detail": {"field": "s"}, "x": {"field": "x", "type": "quantitative", "scale": {"domain": [0, 100], "nice": false}, "axis": {"title": null, "values": [0, 20, 40, 60, 80, 100]}},
                 "y": {"field": "y", "type": "quantitative", "scale": {"domain": [0, 1.5], "nice": false}, "axis": {"title": null, "values": [0, 0.5, 1, 1.5], "labelExpr": "datum.value + ''"}}}},
   {"transform": [{"filter": "datum.s === 'mean'"}], "mark": {"type": "line", "color": "#262626", "strokeWidth": 2.6, "interpolate": "monotone"},
    "encoding": {"x": {"field": "x", "type": "quantitative", "axis": {"title": null, "labels": false, "orient": "top", "values": [0, 20, 40, 60, 80, 100]}},
                 "y": {"field": "y", "type": "quantitative", "axis": {"title": null, "labels": false, "orient": "right", "values": [0, 0.5, 1, 1.5]}}}}
  ],
  "resolve": {"axis": {"x": "independent", "y": "independent"}}}
]},
{"hconcat": [
 {"width": 416, "height": 99, "data": {"name": "bars"}, "transform": [{"filter": "datum.p === 'LD'"}],
  "layer": [
   {"mark": {"type": "bar", "color": "#333333", "stroke": "#1a1a1a", "strokeWidth": 0.8},
    "encoding": {"x": {"field": "m", "type": "nominal", "sort": null, "scale": {"paddingInner": 0.2, "paddingOuter": 0.75}, "axis": {"title": null, "orient": "bottom", "labelAngle": 0, "labelFont": "Liberation Serif", "labelFontSize": 14, "labelColor": "#222222"}},
                 "y": {"field": "v", "type": "quantitative", "scale": {"domain": [0, 1.5], "nice": false}, "axis": {"title": "LD", "values": [0, 0.5, 1, 1.5], "labelExpr": "datum.value + ''", "titlePadding": 10}}}},
   {"mark": {"type": "rule", "color": "#111111", "strokeWidth": 1, "clip": true},
    "encoding": {"x": {"field": "m", "type": "nominal", "sort": null, "axis": {"title": null, "labels": false, "orient": "top"}},
                 "y": {"field": "lo", "type": "quantitative", "axis": {"title": null, "labels": false, "orient": "right", "values": [0, 0.5, 1, 1.5]}}, "y2": {"field": "hi"}}},
   {"mark": {"type": "tick", "color": "#111111", "thickness": 1, "size": 6, "clip": true},
    "encoding": {"x": {"field": "m", "type": "nominal", "sort": null, "axis": null}, "y": {"field": "hi", "type": "quantitative", "axis": null}}},
   {"mark": {"type": "tick", "color": "#111111", "thickness": 1, "size": 6, "clip": true},
    "encoding": {"x": {"field": "m", "type": "nominal", "sort": null, "axis": null}, "y": {"field": "lo", "type": "quantitative", "axis": null}}}
  ],
  "resolve": {"axis": {"x": "independent", "y": "independent"}}},
 {"width": 421, "height": 99, "data": {"name": "lines"}, "transform": [{"filter": "datum.p === 'LD'"}],
  "layer": [
   {"transform": [{"filter": "datum.s !== 'mean'"}], "mark": {"type": "line", "color": "#949494", "strokeWidth": 0.9, "interpolate": "monotone"},
    "encoding": {"detail": {"field": "s"}, "x": {"field": "x", "type": "quantitative", "scale": {"domain": [0, 100], "nice": false}, "axis": {"title": "Gait Cycle(%)", "titleFontSize": 17, "titlePadding": 2, "values": [0, 20, 40, 60, 80, 100]}},
                 "y": {"field": "y", "type": "quantitative", "scale": {"domain": [0, 1.5], "nice": false}, "axis": {"title": null, "values": [0, 0.5, 1, 1.5], "labelExpr": "datum.value + ''"}}}},
   {"transform": [{"filter": "datum.s === 'mean'"}], "mark": {"type": "line", "color": "#262626", "strokeWidth": 2.6, "interpolate": "monotone"},
    "encoding": {"x": {"field": "x", "type": "quantitative", "axis": {"title": null, "labels": false, "orient": "top", "values": [0, 20, 40, 60, 80, 100]}},
                 "y": {"field": "y", "type": "quantitative", "axis": {"title": null, "labels": false, "orient": "right", "values": [0, 0.5, 1, 1.5]}}}}
  ],
  "resolve": {"axis": {"x": "independent", "y": "independent"}}}
]}
]
}
